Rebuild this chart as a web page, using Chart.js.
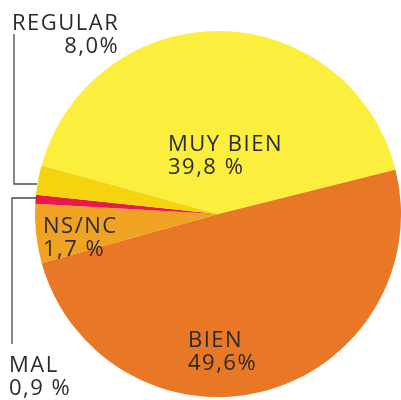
<!DOCTYPE html>
<html>
<head>
<meta charset="utf-8">
<script src="https://cdn.jsdelivr.net/npm/chart.js@4/dist/chart.umd.min.js"></script>
<style>
    body { margin: 0; background: #ffffff; }
    #wrap { position: relative; width: 401px; height: 400px; }
</style>
</head>
<body>
<div id="wrap"><canvas id="pie"></canvas></div>
<script>
// slices in drawing order, clockwise from the right-hand edge
const categories = ["BIEN", "NS/NC", "MAL", "REGULAR", "MUY BIEN"];
const sliceValues = [49.6, 5.2, 0.8, 2.6, 41.8];
const percentLabels = ["49,6%", "1,7 %", "0,9 %", "8,0%", "39,8 %"];
const sliceColors = ["#E87726", "#F0A323", "#E8194B", "#F5D40F", "#FBEE3C"];

// where each text block sits (left x, baseline of first line)
const labelSpots = [
    { x: 188, y: 347 },
    { x: 43, y: 233 },
    { x: 9, y: 372 },
    { x: 12, y: 30, rightSecond: true },
    { x: 168, y: 151 }
];

const labelPlugin = {
    id: "labelPlugin",
    afterDraw(chart) {
        const ctx = chart.ctx;
        ctx.save();

        // leader lines
        ctx.strokeStyle = "#4a4a4a";
        ctx.lineWidth = 1.3;
        ctx.beginPath();
        ctx.moveTo(14, 34);
        ctx.lineTo(14, 184);
        ctx.lineTo(37, 184);
        ctx.moveTo(37, 198);
        ctx.lineTo(12, 198);
        ctx.lineTo(12, 344);
        ctx.stroke();

        ctx.fillStyle = "#2b2b2b";
        ctx.font = "400 22px 'Open Sans'";
        ctx.letterSpacing = "1.5px";
        ctx.textBaseline = "alphabetic";
        categories.forEach((name, i) => {
            const spot = labelSpots[i];
            ctx.textAlign = "left";
            ctx.fillText(name, spot.x, spot.y);
            if (spot.rightSecond) {
                const w = ctx.measureText(name).width;
                ctx.textAlign = "right";
                ctx.fillText(percentLabels[i], spot.x + w, spot.y + 23);
            } else {
                ctx.fillText(percentLabels[i], spot.x, spot.y + 23);
            }
        });
        ctx.restore();
    }
};

new Chart(document.getElementById("pie"), {
    type: "pie",
    data: {
        labels: categories,
        datasets: [{
            data: sliceValues,
            backgroundColor: sliceColors,
            borderWidth: 0
        }]
    },
    options: {
        responsive: true,
        maintainAspectRatio: false,
        animation: false,
        rotation: 75.9,
        layout: { padding: { left: 35, top: 31, right: 0, bottom: 3 } },
        plugins: {
            legend: { display: false },
            tooltip: { enabled: false }
        }
    },
    plugins: [labelPlugin]
});
</script>
</body>
</html>
